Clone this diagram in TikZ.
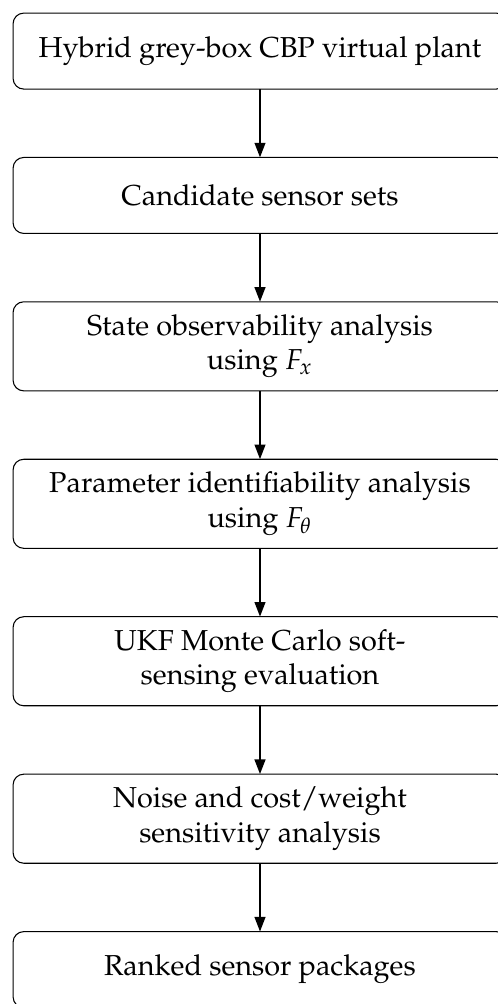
\documentclass[tikz,border=0pt]{standalone}
\usepackage[T1]{fontenc}
\usepackage{mathpazo}
\usetikzlibrary{arrows.meta,positioning}
\tikzset{
	stage/.style={draw,rounded corners=4pt,align=center,font=\fontsize{10.8pt}{12.9pt}\selectfont,
		minimum width=6.5cm,minimum height=1cm,inner xsep=5pt,inner ysep=4.8pt,outer sep=0pt},
	flow/.style={thick,-{Triangle[width=4pt,length=5.5pt]}}
}

\begin{document}
\begin{tikzpicture}[node distance=0.9cm]
      \node [stage] (plant) {Hybrid grey-box CBP virtual plant};
      \node [stage, below=of plant] (cands) {Candidate sensor sets};
      \node [stage, below=of cands] (obsv) {State observability analysis\\using $F_x$};
      \node [stage, below=of obsv] (ident) {Parameter identifiability analysis\\using $F_\theta$};
      \node [stage, below=of ident] (ukf) {UKF Monte Carlo soft-\\sensing evaluation};
      \node [stage, below=of ukf] (sens) {Noise and cost/weight\\sensitivity analysis};
      \node [stage, below=of sens] (rank) {Ranked sensor packages};
      \draw [flow] (plant) -- (cands);
      \draw [flow] (cands) -- (obsv);
      \draw [flow] (obsv) -- (ident);
      \draw [flow] (ident) -- (ukf);
      \draw [flow] (ukf) -- (sens);
      \draw [flow] (sens) -- (rank);
      \pgfresetboundingbox
      \path [use as bounding box] ([shift={(-4.9pt,4.9pt)}]plant.north west) rectangle +(186.5pt,-376pt);
   \end{tikzpicture}
\end{document}
